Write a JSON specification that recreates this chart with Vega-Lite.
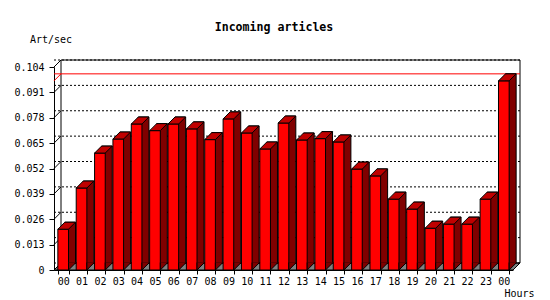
{
  "$schema": "https://vega.github.io/schema/vega-lite/v6.json",
  "width": 459,
  "height": 203,
  "autosize": {"type": "none"},
  "padding": {"left": 54, "top": 67, "right": 37, "bottom": 30},
  "background": "white",
  "title": {
    "text": "Incoming articles",
    "font": "DejaVu Sans Mono",
    "fontSize": 11.6,
    "fontWeight": "bold",
    "color": "black",
    "anchor": "middle",
    "frame": "group",
    "dx": -9.5,
    "offset": 0
  },
  "datasets": {
    "traffic": [
      {"slot": "00", "rate": 0.0209},
      {"slot": "01", "rate": 0.0420},
      {"slot": "02", "rate": 0.0599},
      {"slot": "03", "rate": 0.0671},
      {"slot": "04", "rate": 0.0748},
      {"slot": "05", "rate": 0.0714},
      {"slot": "06", "rate": 0.0748},
      {"slot": "07", "rate": 0.0723},
      {"slot": "08", "rate": 0.0668},
      {"slot": "09", "rate": 0.0774},
      {"slot": "10", "rate": 0.0702},
      {"slot": "11", "rate": 0.0620},
      {"slot": "12", "rate": 0.0753},
      {"slot": "13", "rate": 0.0666},
      {"slot": "14", "rate": 0.0673},
      {"slot": "15", "rate": 0.0656},
      {"slot": "16", "rate": 0.0517},
      {"slot": "17", "rate": 0.0482},
      {"slot": "18", "rate": 0.0363},
      {"slot": "19", "rate": 0.0312},
      {"slot": "20", "rate": 0.0214},
      {"slot": "21", "rate": 0.0235},
      {"slot": "22", "rate": 0.0235},
      {"slot": "23", "rate": 0.0363},
      {"slot": "00+", "rate": 0.0969}
    ],
    "ticks": [
      {"v": 0}, {"v": 0.013}, {"v": 0.026}, {"v": 0.039}, {"v": 0.052},
      {"v": 0.065}, {"v": 0.078}, {"v": 0.091}, {"v": 0.104}
    ]
  },
  "layer": [
    {
      "layer": [
        {
          "data": {"name": "ticks"},
          "transform": [{"filter": "datum.v == 0"}],
          "mark": {"type": "point", "shape": "M0,0L459,0L466,-7L7,-7Z", "size": 4, "filled": true, "fill": "#808080", "stroke": "black", "strokeWidth": 1, "opacity": 1},
          "encoding": {
            "x": {"datum": 0, "type": "quantitative", "scale": {"domain": [0, 1], "nice": false, "zero": false}, "axis": null},
            "y": {
              "field": "v", "type": "quantitative", "scale": {"domain": [0, 0.104], "nice": false},
              "axis": {
                "title": "Art/sec", "titleAngle": 0, "titleAlign": "left", "titleBaseline": "middle",
                "titleX": -24.5, "titleY": -28,
                "values": [0, 0.013, 0.026, 0.039, 0.052, 0.065, 0.078, 0.091, 0.104],
                "tickCount": 20,
                "format": ".3~f", "tickSize": 5, "labelPadding": 5, "labelFlush": false, "labelOverlap": false, "labelBound": false
              }
            }
          }
        },
        {
          "data": {"name": "ticks"},
          "transform": [{"filter": "datum.v == 0.104"}],
          "mark": {"type": "rect", "fill": null, "fillOpacity": 0, "stroke": "black", "strokeWidth": 1, "xOffset": 7, "x2Offset": 7, "yOffset": -7, "y2Offset": -7},
          "encoding": {
            "x": {"datum": 0, "type": "quantitative", "axis": null},
            "x2": {"datum": 1},
            "y": {"field": "v", "type": "quantitative"},
            "y2": {"datum": 0}
          }
        },
        {
          "data": {"name": "ticks"},
          "mark": {"type": "rule", "color": "black", "strokeWidth": 1, "strokeDash": [2, 2], "xOffset": 7, "x2Offset": 7, "yOffset": -7, "y2Offset": -7},
          "encoding": {
            "y": {"field": "v", "type": "quantitative"}
          }
        },
        {
          "data": {"name": "ticks"},
          "mark": {"type": "rule", "color": "black", "strokeWidth": 1, "x2Offset": 7, "y2Offset": -7},
          "encoding": {
            "x": {"datum": 0, "type": "quantitative", "axis": null},
            "x2": {"datum": 0},
            "y": {"field": "v", "type": "quantitative"},
            "y2": {"field": "v"}
          }
        },
        {
          "data": {"name": "traffic"},
          "transform": [{"aggregate": [{"op": "max", "field": "rate", "as": "maxrate"}]}],
          "mark": {"type": "rule", "color": "#ff0000", "strokeWidth": 1, "xOffset": 7, "x2Offset": 7, "yOffset": -7, "y2Offset": -7},
          "encoding": {
            "y": {"field": "maxrate", "type": "quantitative"}
          }
        },
        {
          "data": {"name": "traffic"},
          "transform": [{"aggregate": [{"op": "max", "field": "rate", "as": "maxrate"}]}],
          "mark": {"type": "rule", "color": "#ff0000", "strokeWidth": 1, "x2Offset": 7, "y2Offset": -7},
          "encoding": {
            "x": {"datum": 0, "type": "quantitative", "axis": null},
            "x2": {"datum": 0},
            "y": {"field": "maxrate", "type": "quantitative"},
            "y2": {"field": "maxrate"}
          }
        }
      ]
    },
    {
      "data": {"name": "traffic"},
      "layer": [
        {
          "mark": {"type": "bar", "fill": "#800000", "stroke": "black", "strokeWidth": 1, "xOffset": 7, "yOffset": -7, "y2Offset": -7},
          "encoding": {
            "x": {
              "field": "slot", "type": "nominal", "sort": null, "scale": {"paddingInner": 0.42, "paddingOuter": 0.21},
              "axis": {
                "title": "Hours", "labelAngle": 0, "tickBand": "extent", "tickSize": 4, "labelPadding": 2,
                "labelExpr": "slice(datum.label, 0, 2)", "labelOverlap": false, "labelFlush": false,
                "titleX": 480, "titleY": 26, "titleAlign": "right", "titleBaseline": "alphabetic"
              }
            },
            "y": {"field": "rate", "type": "quantitative"}
          }
        },
        {
          "mark": {"type": "bar", "fill": "#ff0000", "stroke": "black", "strokeWidth": 1},
          "encoding": {
            "x": {"field": "slot", "type": "nominal", "sort": null},
            "y": {"field": "rate", "type": "quantitative"}
          }
        },
        {
          "mark": {"type": "point", "shape": "M-5.32,0L5.32,0L12.32,-7L1.68,-7Z", "size": 4, "filled": true, "fill": "#c00000", "stroke": "black", "strokeWidth": 1, "opacity": 1},
          "encoding": {
            "x": {"field": "slot", "type": "nominal", "sort": null},
            "y": {"field": "rate", "type": "quantitative"}
          }
        },
        {
          "mark": {"type": "point", "shape": "M12.82,-7.5L5.32,0L5.32,-7.5", "size": 4, "filled": true, "fill": "#800000", "stroke": "black", "strokeWidth": 1, "opacity": 1},
          "encoding": {
            "x": {"field": "slot", "type": "nominal", "sort": null},
            "y": {"datum": 0, "type": "quantitative"}
          }
        }
      ]
    }
  ],
  "resolve": {"scale": {"x": "independent"}},
  "config": {
    "view": {"stroke": null},
    "axis": {
      "labelFont": "DejaVu Sans Mono", "labelFontSize": 10, "labelColor": "black",
      "titleFont": "DejaVu Sans Mono", "titleFontSize": 10, "titleFontWeight": "normal", "titleColor": "black",
      "domainColor": "black", "tickColor": "black", "grid": false,
      "labelOverlap": false, "labelBound": false
    }
  }
}
